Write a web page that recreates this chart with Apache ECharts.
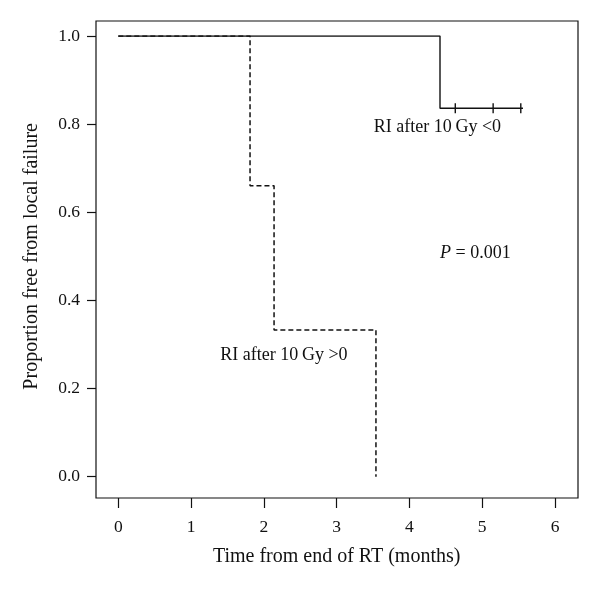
<!DOCTYPE html>
<html>
<head>
<meta charset="utf-8">
<script src="https://cdn.jsdelivr.net/npm/echarts@6/dist/echarts.min.js"></script>
<style>
  html, body { margin: 0; padding: 0; background: #fff; }
  #chart { width: 600px; height: 590px; }
</style>
</head>
<body>
<div id="chart"></div>
<script>
// Kaplan-Meier steps, [months, proportion]
var riNegative = [[0, 1], [4.42, 0.836], [5.56, 0.836]];
var riPositive = [[0, 1], [1.81, 0.66], [2.14, 0.333], [3.54, 0]];
// censor marks on the RI<0 curve
var censored = [[4.63, 0.836], [5.15, 0.836], [5.53, 0.836]];
// annotations [x, y, text]
var notes = [
  [4.385, 0.794, 'RI after 10\u2009Gy <0'],
  [2.276, 0.276, 'RI after 10\u2009Gy >0'],
  [4.906, 0.508, '{i|P} = 0.001']
];
var xTicks = [0, 6, 1];   // min, max, step
var yTicks = [0, 1, 0.2];

var ink = '#111';
var font = '"Liberation Serif", "DejaVu Serif", serif';

var chart = echarts.init(document.getElementById('chart'));

// hidden helper axis
function hidden(grid, min, max) {
  return { gridIndex: grid, type: 'value', min: min, max: max, show: false };
}

var option = {
  backgroundColor: '#fff',
  animation: false,
  textStyle: { fontFamily: font, color: ink },
  grid: [
    // 0: frame box
    { left: 96, right: 22, top: 21, bottom: 92, show: true, borderColor: ink, borderWidth: 1.2, backgroundColor: 'transparent' },
    // 1: data area (0..6 by 0..1)
    { left: 118.3, right: 45, top: 36, bottom: 113.3 },
    // 2: x ticks on the frame bottom
    { left: 118.3, right: 45, top: 21, bottom: 92 },
    // 3: y ticks on the frame left
    { left: 96, right: 22, top: 36, bottom: 113.3 }
  ],
  xAxis: [
    hidden(0, 0, 1),
    hidden(1, xTicks[0], xTicks[1]),
    {
      gridIndex: 2, type: 'value', min: xTicks[0], max: xTicks[1], interval: xTicks[2],
      name: 'Time from end of RT (months)', nameLocation: 'middle', nameGap: 49,
      nameTextStyle: { fontFamily: font, fontSize: 20, color: ink },
      axisLine: { show: false },
      axisTick: { show: true, length: 10, lineStyle: { color: ink, width: 1.2 } },
      axisLabel: { margin: 20, fontFamily: font, fontSize: 17.5, color: ink },
      splitLine: { show: false }
    },
    hidden(3, 0, 1)
  ],
  yAxis: [
    hidden(0, 0, 1),
    hidden(1, yTicks[0], yTicks[1]),
    hidden(2, 0, 1),
    {
      gridIndex: 3, type: 'value', min: yTicks[0], max: yTicks[1], interval: yTicks[2],
      name: 'Proportion free from local failure', nameLocation: 'middle', nameGap: 54,
      nameTextStyle: { fontFamily: font, fontSize: 20, color: ink },
      axisLine: { show: false },
      axisTick: { show: true, length: 9, lineStyle: { color: ink, width: 1.2 } },
      axisLabel: {
        margin: 16, fontFamily: font, fontSize: 17.5, color: ink,
        formatter: function (v) { return v.toFixed(1); }
      },
      splitLine: { show: false }
    }
  ],
  series: [
    {
      name: 'RI>0', type: 'line', xAxisIndex: 1, yAxisIndex: 1,
      step: 'end', showSymbol: false, symbol: 'none',
      data: riPositive,
      lineStyle: { color: ink, width: 1.5, type: [5, 3] }
    },
    {
      name: 'RI<0', type: 'line', xAxisIndex: 1, yAxisIndex: 1,
      step: 'end', showSymbol: false, symbol: 'none',
      data: riNegative,
      lineStyle: { color: ink, width: 1.4 }
    },
    {
      name: 'censored', type: 'scatter', xAxisIndex: 1, yAxisIndex: 1,
      symbol: 'rect', symbolSize: [1.4, 10],
      itemStyle: { color: ink, opacity: 1 },
      data: censored
    },
    {
      name: 'notes', type: 'scatter', xAxisIndex: 1, yAxisIndex: 1,
      symbolSize: 0, clip: false,
      itemStyle: { opacity: 1, color: ink },
      data: notes.map(function (n) { return { value: [n[0], n[1]], text: n[2] }; }),
      label: {
        show: true, position: 'inside', opacity: 1,
        fontFamily: font, fontSize: 18, color: ink,
        textBorderWidth: 0,
        formatter: function (p) { return p.data.text; },
        rich: { i: { fontFamily: font, fontSize: 18, fontStyle: 'italic', color: ink, textBorderWidth: 0 } }
      }
    }
  ]
};

chart.setOption(option);
</script>
</body>
</html>
